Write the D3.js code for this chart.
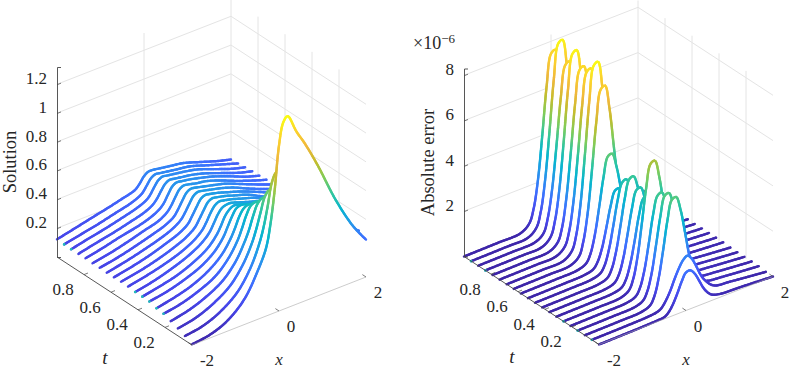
<!DOCTYPE html>
<html lang='en'>
<head>
  <meta charset='UTF-8'>
  <title>Solution and absolute error</title>
  <script src='https://d3js.org/d3.v7.min.js'></script>
  <style>
    html, body { margin: 0; padding: 0; background: #fff; }
    svg { display: block; }
    text { font-family: 'Liberation Serif', serif; fill: #262626; }
  </style>
</head>
<body>
<div id='main'></div>
<script>
  // time of each line, back to front
  const tLines = [1, 0.947, 0.895, 0.842, 0.789, 0.737, 0.684, 0.632, 0.579, 0.526, 0.474, 0.421, 0.368, 0.316, 0.263, 0.211, 0.158, 0.105, 0.053, 0]

  // left panel
  const solX = [-2, -1.6, -1.2, -0.8, -0.5, -0.3, -0.2, -0.1, 0, 0.1, 0.2, 0.4, 0.6, 0.9, 1.3, 1.7, 2]
  const solRows = [
    [0.123, 0.15, 0.178, 0.205, 0.228, 0.243, 0.255, 0.285, 0.325, 0.345, 0.345, 0.335, 0.325, 0.31, 0.27, 0.23, 0.205],
    [0.12, 0.145, 0.17, 0.2, 0.222, 0.245, 0.265, 0.305, 0.345, 0.36, 0.355, 0.345, 0.335, 0.32, 0.28, 0.24, 0.21],
    [0.118, 0.145, 0.17, 0.2, 0.225, 0.25, 0.275, 0.32, 0.36, 0.375, 0.37, 0.36, 0.35, 0.33, 0.285, 0.24, 0.215],
    [0.118, 0.145, 0.17, 0.2, 0.225, 0.255, 0.285, 0.33, 0.37, 0.385, 0.38, 0.37, 0.36, 0.335, 0.29, 0.245, 0.22],
    [0.12, 0.145, 0.175, 0.2, 0.228, 0.26, 0.29, 0.34, 0.385, 0.4, 0.395, 0.385, 0.37, 0.345, 0.3, 0.25, 0.222],
    [0.117, 0.14, 0.17, 0.205, 0.23, 0.265, 0.3, 0.35, 0.395, 0.41, 0.405, 0.39, 0.38, 0.35, 0.3, 0.255, 0.225],
    [0.118, 0.14, 0.17, 0.205, 0.235, 0.27, 0.31, 0.36, 0.405, 0.42, 0.415, 0.4, 0.385, 0.36, 0.31, 0.26, 0.225],
    [0.116, 0.14, 0.17, 0.205, 0.24, 0.28, 0.32, 0.37, 0.415, 0.43, 0.425, 0.41, 0.395, 0.365, 0.31, 0.26, 0.225],
    [0.116, 0.14, 0.17, 0.21, 0.245, 0.285, 0.33, 0.38, 0.425, 0.44, 0.435, 0.42, 0.4, 0.37, 0.32, 0.265, 0.23],
    [0.118, 0.14, 0.17, 0.21, 0.25, 0.295, 0.34, 0.39, 0.435, 0.45, 0.445, 0.43, 0.41, 0.38, 0.32, 0.27, 0.23],
    [0.116, 0.14, 0.17, 0.21, 0.255, 0.305, 0.35, 0.405, 0.445, 0.46, 0.455, 0.44, 0.42, 0.39, 0.33, 0.27, 0.235],
    [0.111, 0.135, 0.17, 0.215, 0.265, 0.32, 0.37, 0.425, 0.46, 0.47, 0.47, 0.45, 0.43, 0.4, 0.34, 0.28, 0.24],
    [0.111, 0.135, 0.165, 0.215, 0.27, 0.335, 0.385, 0.445, 0.48, 0.495, 0.49, 0.47, 0.45, 0.41, 0.35, 0.29, 0.24],
    [0.109, 0.13, 0.165, 0.215, 0.28, 0.355, 0.415, 0.475, 0.52, 0.53, 0.525, 0.5, 0.48, 0.43, 0.36, 0.29, 0.25],
    [0.095, 0.12, 0.155, 0.215, 0.29, 0.375, 0.435, 0.505, 0.55, 0.565, 0.56, 0.53, 0.5, 0.45, 0.37, 0.3, 0.25],
    [0.088, 0.11, 0.15, 0.21, 0.3, 0.395, 0.465, 0.545, 0.6, 0.615, 0.61, 0.58, 0.55, 0.49, 0.39, 0.31, 0.26],
    [0.069, 0.095, 0.14, 0.21, 0.31, 0.42, 0.49, 0.58, 0.65, 0.675, 0.67, 0.63, 0.6, 0.53, 0.42, 0.32, 0.26],
    [0.051, 0.075, 0.125, 0.205, 0.32, 0.44, 0.525, 0.63, 0.73, 0.765, 0.76, 0.72, 0.68, 0.6, 0.45, 0.33, 0.27],
    [0.03, 0.05, 0.1, 0.19, 0.32, 0.46, 0.56, 0.7, 0.86, 0.92, 0.92, 0.86, 0.8, 0.7, 0.5, 0.36, 0.29],
    [0.005, 0.022, 0.07, 0.175, 0.33, 0.47, 0.62, 0.85, 1.15, 1.3, 1.33, 1.2, 1.09, 0.9, 0.62, 0.39, 0.26]
  ]
  const solTicksZ = [0.2, 0.4, 0.6, 0.8, 1, 1.2]
  const solDots = [1, 2, 11, 12, 13, 14, 15]

  // right panel, units of 1e-6
  const errX = [-2, -1.2, -0.7, -0.5, -0.4, -0.3, -0.2, -0.1, 0, 0.1, 0.2, 0.3, 0.4, 0.5, 0.6, 0.8, 1.2, 2]
  const errRows = [
    [0, 0.02, 0.05, 0.33, 0.9, 2.1, 4, 6.1, 7.45, 7.55, 6.5, 4.7, 2.9, 1.55, 0.8, 0.35, 0.2, 0.08],
    [0, 0.02, 0.05, 0.35, 0.98, 2.3, 4.35, 6.6, 8.1, 8.2, 7, 5.1, 3.15, 1.65, 0.85, 0.35, 0.2, 0.08],
    [0, 0.02, 0.05, 0.3, 0.9, 2.1, 3.95, 6, 7.35, 7.45, 6.4, 4.65, 2.85, 1.5, 0.78, 0.35, 0.2, 0.08],
    [0, 0.02, 0.05, 0.35, 0.98, 2.27, 4.3, 6.55, 8.05, 8.15, 6.95, 5.1, 3.1, 1.65, 0.85, 0.35, 0.2, 0.08],
    [0, 0.02, 0.05, 0.32, 0.9, 2.15, 4.05, 6.15, 7.55, 7.65, 6.55, 4.8, 2.95, 1.55, 0.8, 0.35, 0.2, 0.08],
    [0, 0.02, 0.05, 0.33, 0.92, 2.17, 4.1, 6.25, 7.65, 7.75, 6.6, 4.85, 3, 1.6, 0.82, 0.35, 0.2, 0.08],
    [0, 0.02, 0.05, 0.35, 0.98, 2.3, 4.4, 6.65, 8.15, 8.25, 7.05, 5.15, 3.15, 1.7, 0.85, 0.35, 0.2, 0.08],
    [0, 0.02, 0.05, 0.3, 0.88, 2.05, 3.9, 5.95, 7.3, 7.4, 6.35, 4.6, 2.85, 1.5, 0.78, 0.3, 0.2, 0.07],
    [0, 0.02, 0.05, 0.2, 0.55, 1.3, 2.45, 3.7, 4.55, 4.6, 3.95, 2.9, 1.75, 0.95, 0.5, 0.3, 0.2, 0.07],
    [0, 0.02, 0.05, 0.15, 0.4, 0.92, 1.75, 2.65, 3.25, 3.28, 2.8, 2.05, 1.25, 0.68, 0.38, 0.3, 0.2, 0.08],
    [0, 0.02, 0.05, 0.17, 0.45, 1.08, 2.05, 3.1, 3.8, 3.88, 3.35, 2.45, 1.5, 0.8, 0.42, 0.3, 0.2, 0.08],
    [0, 0.02, 0.05, 0.18, 0.5, 1.2, 2.25, 3.4, 4.15, 4.22, 3.65, 2.65, 1.65, 0.88, 0.46, 0.3, 0.2, 0.08],
    [0, 0.02, 0.05, 0.17, 0.46, 1.1, 2.1, 3.15, 3.88, 3.93, 3.35, 2.45, 1.5, 0.82, 0.43, 0.3, 0.2, 0.08],
    [0, 0.02, 0.05, 0.16, 0.44, 1.06, 2, 3.05, 3.72, 3.78, 3.25, 2.35, 1.45, 0.78, 0.42, 0.3, 0.2, 0.05],
    [0, 0.02, 0.05, 0.23, 0.65, 1.55, 2.95, 4.45, 5.45, 5.52, 4.75, 3.45, 2.1, 1.12, 0.6, 0.3, 0.2, 0.05],
    [0, 0.02, 0.05, 0.18, 0.5, 1.2, 2.3, 3.5, 4.25, 4.32, 3.7, 2.7, 1.65, 0.88, 0.47, 0.3, 0.2, 0.05],
    [0, 0.02, 0.05, 0.19, 0.53, 1.25, 2.4, 3.6, 4.45, 4.5, 3.85, 2.8, 1.72, 0.92, 0.48, 0.3, 0.2, 0.05],
    [0, 0.02, 0.05, 0.19, 0.53, 1.27, 2.4, 3.65, 4.48, 4.53, 3.9, 2.85, 1.75, 0.95, 0.5, 0.3, 0.2, 0.05],
    [0, 0.02, 0.05, 0.1, 0.2, 0.45, 0.8, 1.25, 1.65, 1.95, 2.07, 1.85, 1.45, 1, 0.68, 0.3, 0.18, 0],
    [0, 0.02, 0.05, 0.08, 0.22, 0.5, 0.9, 1.35, 1.68, 1.7, 1.48, 1.1, 0.7, 0.42, 0.25, 0.14, 0.1, 0]
  ]
  const errTicksZ = [2, 4, 6, 8]
  const errDots = [1, 3, 14, 16, 18]

  const tTicks = [0.8, 0.6, 0.4, 0.2]
  const xTicks = [-2, 0, 2]

  // parula
  const parulaStops = [0, 0.1, 0.2, 0.3, 0.4, 0.5, 0.6, 0.7, 0.8, 0.9, 1]
  const parulaColors = ['#3e26a8', '#4747eb', '#3e6fff', '#2796eb', '#08b5d0', '#31c69f', '#81cc59', '#c5bd2e', '#f0b83c', '#fbd22e', '#f9fb15']
  const parula = d3.scaleLinear().domain(parulaStops).range(parulaColors).clamp(true)

  const [width, height] = [789, 369]
  const svg = d3.select('#main').append('svg').attr('width', width).attr('height', height)

  // shared oblique projection of the box
  const xToSx = d3.scaleLinear().domain([-2, 2]).range([0, 174])
  const xToSy = d3.scaleLinear().domain([-2, 2]).range([0, -68])
  const tToSx = d3.scaleLinear().domain([1, 0]).range([0, 135])
  const tToSy = d3.scaleLinear().domain([1, 0]).range([0, 88])
  const tickText = d3.format('~g')
  const curve = d3.curveCatmullRom.alpha(0.5)

  function drawPanel (p) {
    const g = svg.append('g').attr('transform', `translate(${p.left}, ${p.bottom})`)
    const zScale = d3.scaleLinear().domain([0, p.zTop]).range([0, p.zPixels])
    const sx = (x, t) => xToSx(x) + tToSx(t)
    const sy = (x, t, z) => xToSy(x) + tToSy(t) + zScale(z)

    // walls
    const grid = g.append('g').attr('stroke', '#e4e4e4').attr('stroke-width', 1).attr('fill', 'none')
    const seg = (sel, a, b) => sel.append('line')
      .attr('x1', sx(a[0], a[1])).attr('y1', sy(a[0], a[1], a[2]))
      .attr('x2', sx(b[0], b[1])).attr('y2', sy(b[0], b[1], b[2]))
    p.ticksZ.forEach(z => {
      seg(grid, [-2, 1, z], [2, 1, z])
      seg(grid, [2, 1, z], [2, 0, z])
    })
    seg(grid, [0, 1, 0], [0, 1, p.zTop])
    seg(grid, [2, 1, 0], [2, 1, p.zTop])
    tTicks.forEach(t => seg(grid, [2, t, 0], [2, t, p.zTop]))

    // waterfall, white curtain under each line
    tLines.forEach((t, i) => {
      const pts = p.xs.map((x, j) => ({ x: x, z: p.rows[i][j] }))
      g.append('path')
        .attr('fill', '#fff')
        .attr('d', d3.area().curve(curve)
          .x(d => sx(d.x, t))
          .y0(d => sy(d.x, t, 0))
          .y1(d => sy(d.x, t, d.z))(pts))
      const tmp = g.append('path')
        .attr('fill', 'none')
        .attr('d', d3.line().curve(curve)
          .x(d => sx(d.x, t))
          .y(d => sy(d.x, t, d.z))(pts))
      const node = tmp.node()
      const len = node.getTotalLength()
      const line = g.append('g').attr('fill', 'none').attr('stroke-width', 2.4).attr('stroke-linecap', 'round')
      const step = 1.5
      let prev = node.getPointAtLength(0)
      for (let s = step; s < len + step; s += step) {
        const cur = node.getPointAtLength(Math.min(s, len))
        // x comes back from the screen position, z from the height above the floor
        const xAt = xToSx.invert((prev.x + cur.x) / 2 - tToSx(t))
        const zAt = zScale.invert((prev.y + cur.y) / 2 - xToSy(xAt) - tToSy(t))
        line.append('line')
          .attr('x1', prev.x).attr('y1', prev.y)
          .attr('x2', cur.x).attr('y2', cur.y)
          .attr('stroke', parula(zAt / p.zMax))
        prev = cur
      }
      tmp.remove()
      if (p.dots.includes(i)) {
        g.append('circle')
          .attr('cx', sx(-2, t)).attr('cy', sy(-2, t, p.rows[i][0]))
          .attr('r', 1.3).attr('fill', '#1fbfb8')
      }
    })

    // z axis
    const zAxis = d3.axisLeft(zScale)
      .tickValues(p.ticksZ)
      .tickSize(-4)
      .tickPadding(10)
      .tickFormat(tickText)
    const zg = g.append('g').call(zAxis)
    zg.selectAll('.domain').attr('stroke', '#444').attr('stroke-width', 0.9)
    zg.selectAll('.tick line').attr('stroke', '#444').attr('stroke-width', 0.7)
      .attr('y2', -1.6)
    zg.selectAll('.tick text')
      .attr('font-family', 'Liberation Serif')
      .attr('font-size', 17).attr('dy', '-0.05em').attr('fill', '#262626')

    // t axis
    const axisLines = g.append('g').attr('stroke', '#444').attr('fill', 'none')
    seg(axisLines, [-2, 1, 0], [-2, 0, 0]).attr('stroke-width', 0.9)
    seg(axisLines, [-2, 0, 0], [2, 0, 0]).attr('stroke-width', 0.6).attr('stroke', '#aaa')
    tTicks.forEach(t => {
      const x0 = sx(-2, t)
      const y0 = sy(-2, t, 0)
      axisLines.append('line').attr('x1', x0).attr('y1', y0).attr('x2', x0 + 4).attr('y2', y0 - 1.6).attr('stroke-width', 0.7)
      g.append('text').attr('x', x0 - 21).attr('y', y0 + 15)
        .attr('text-anchor', 'middle').attr('dominant-baseline', 'central')
        .attr('font-size', 17).text(tickText(t))
    })
    // x axis
    xTicks.forEach(x => {
      const x0 = sx(x, 0)
      const y0 = sy(x, 0, 0)
      axisLines.append('line').attr('x1', x0).attr('y1', y0).attr('x2', x0 - 3.6).attr('y2', y0 - 2.4).attr('stroke-width', 0.7)
      g.append('text').attr('x', x0 + (x < 0 ? 15 : 12)).attr('y', y0 + 15.5)
        .attr('text-anchor', 'middle').attr('dominant-baseline', 'central')
        .attr('font-size', 17).text(tickText(x).replace('−', '-'))
    })

    g.append('text').attr('x', 48).attr('y', 100)
      .attr('text-anchor', 'middle').attr('dominant-baseline', 'central')
      .attr('font-size', 19).attr('font-style', 'italic').text('t')
    // kept just above the bottom edge of the window
    g.append('text').attr('x', 222).attr('y', 365 - p.bottom)
      .attr('text-anchor', 'middle')
      .attr('font-size', 17).attr('font-style', 'italic').text('x')
    g.append('text')
      .attr('transform', `translate(${p.labelX}, ${p.labelY}) rotate(-90)`)
      .attr('text-anchor', 'middle').attr('dominant-baseline', 'central')
      .attr('font-size', p.labelSize).text(p.label)
  }

  drawPanel({
    left: 57, bottom: 257, xs: solX, rows: solRows, dots: solDots,
    zTop: 1.32, zPixels: -190, zMax: 1.33, ticksZ: solTicksZ,
    label: 'Solution', labelX: -47, labelY: -95, labelSize: 18.5
  })
  drawPanel({
    left: 464, bottom: 256.5, xs: errX, rows: errRows, dots: errDots,
    zTop: 8.3, zPixels: -188, zMax: 8.3, ticksZ: errTicksZ,
    label: 'Absolute error', labelX: -36, labelY: -94, labelSize: 18.5
  })

  // exponent of the right z axis
  const expo = svg.append('text').attr('x', 413).attr('y', 49).attr('font-size', 18)
  expo.append('tspan').text('×10')
  expo.append('tspan').attr('dy', -6).attr('font-size', 13).text('−6')
</script>
</body>
</html>
